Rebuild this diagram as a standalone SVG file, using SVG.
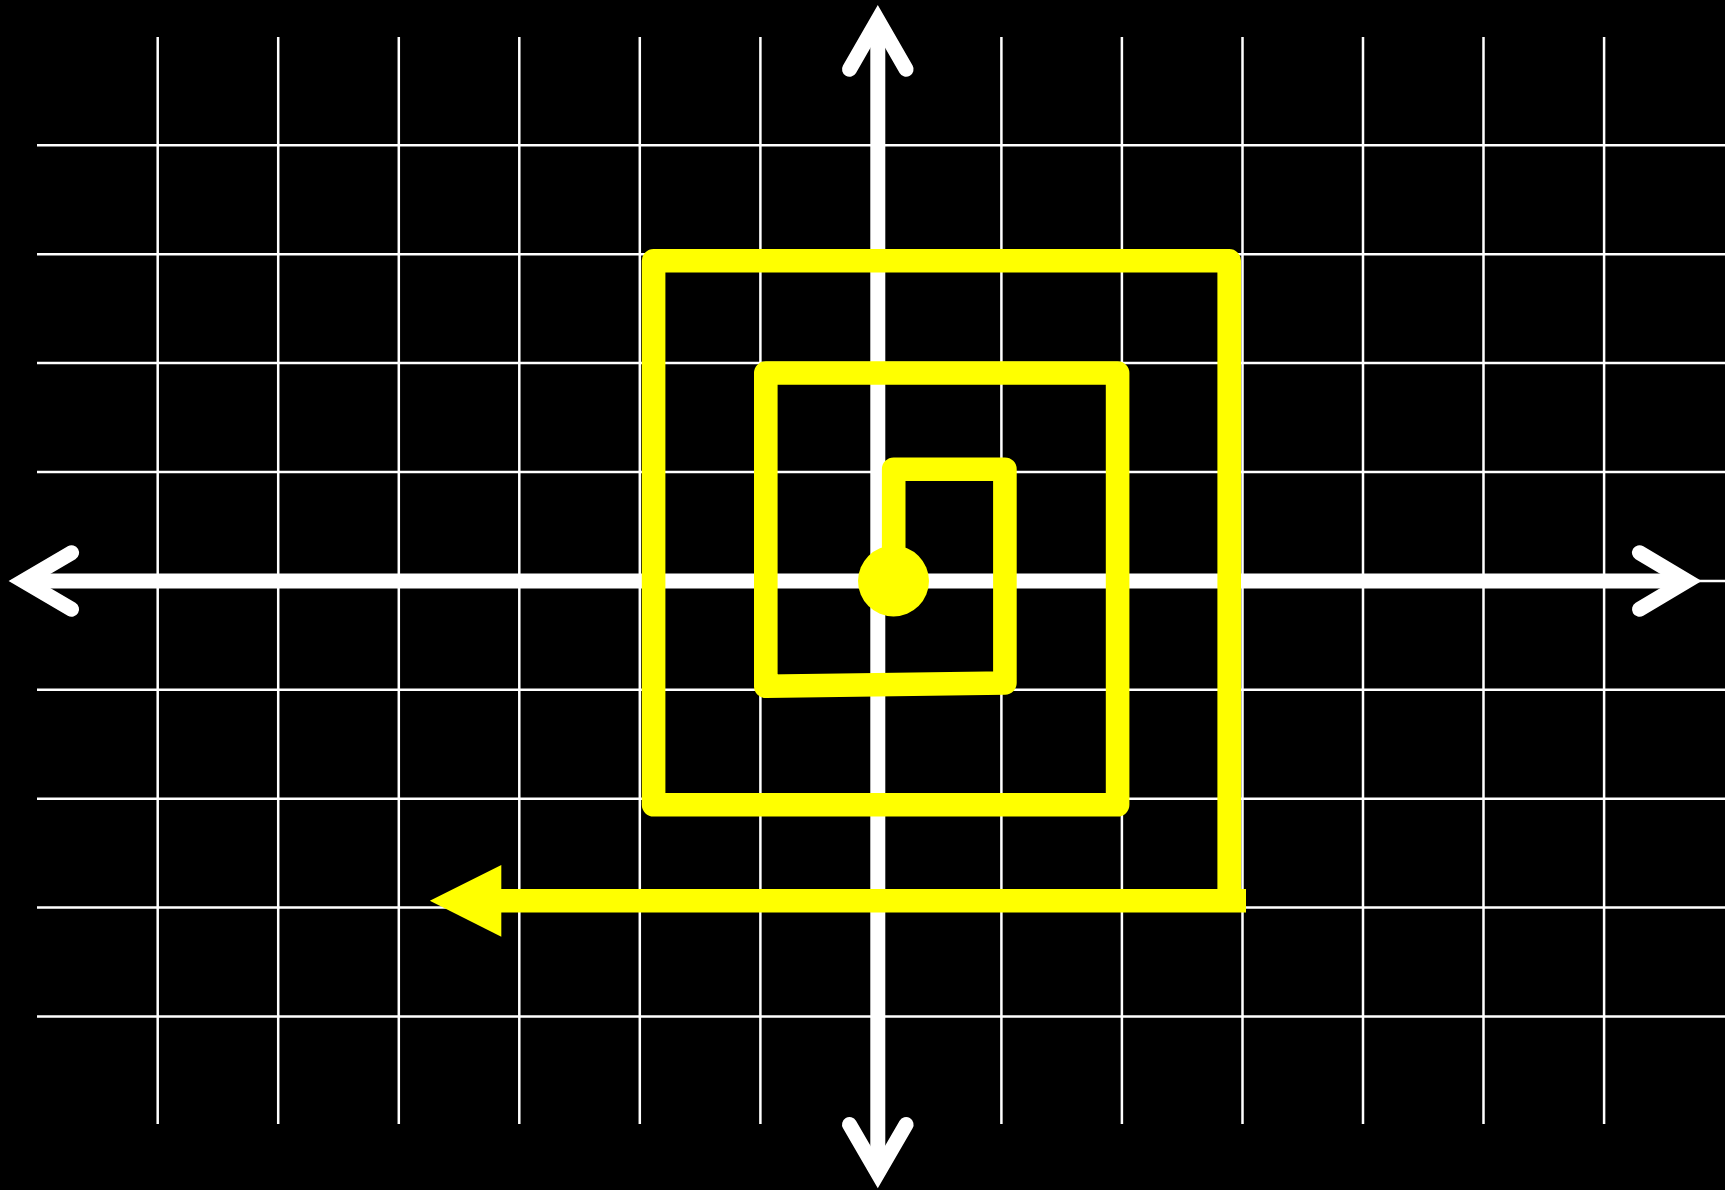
<svg xmlns="http://www.w3.org/2000/svg" width="1725" height="1190" viewBox="0 0 1725 1190">
  <style>
    .grid { stroke: #ffffff; stroke-width: 2.5; fill: none; }
    .axis { stroke: #ffffff; stroke-width: 15; fill: none; }
    .head { stroke: #ffffff; stroke-width: 15; fill: none; stroke-linecap: round; stroke-linejoin: miter; }
    .spiral { stroke: #ffff00; stroke-width: 23.6; fill: none; stroke-linejoin: round; stroke-linecap: butt; }
  </style>
  <rect x="0" y="0" width="1725" height="1190" fill="#000000"/>
  <g id="grid">
    <g id="grid-vertical">
      <line class="grid" x1="157.7" y1="37" x2="157.7" y2="1124"/>
      <line class="grid" x1="278.2" y1="37" x2="278.2" y2="1124"/>
      <line class="grid" x1="398.8" y1="37" x2="398.8" y2="1124"/>
      <line class="grid" x1="519.3" y1="37" x2="519.3" y2="1124"/>
      <line class="grid" x1="639.8" y1="37" x2="639.8" y2="1124"/>
      <line class="grid" x1="760.4" y1="37" x2="760.4" y2="1124"/>
      <line class="grid" x1="1001.4" y1="37" x2="1001.4" y2="1124"/>
      <line class="grid" x1="1121.9" y1="37" x2="1121.9" y2="1124"/>
      <line class="grid" x1="1242.5" y1="37" x2="1242.5" y2="1124"/>
      <line class="grid" x1="1363" y1="37" x2="1363" y2="1124"/>
      <line class="grid" x1="1483.5" y1="37" x2="1483.5" y2="1124"/>
      <line class="grid" x1="1604.1" y1="37" x2="1604.1" y2="1124"/>
    </g>
    <g id="grid-horizontal">
      <line class="grid" x1="37" y1="145.3" x2="1725" y2="145.3"/>
      <line class="grid" x1="37" y1="254.2" x2="1725" y2="254.2"/>
      <line class="grid" x1="37" y1="363.1" x2="1725" y2="363.1"/>
      <line class="grid" x1="37" y1="472" x2="1725" y2="472"/>
      <line class="grid" x1="37" y1="581" x2="1725" y2="581"/>
      <line class="grid" x1="37" y1="689.8" x2="1725" y2="689.8"/>
      <line class="grid" x1="37" y1="798.7" x2="1725" y2="798.7"/>
      <line class="grid" x1="37" y1="907.6" x2="1725" y2="907.6"/>
      <line class="grid" x1="37" y1="1016.5" x2="1725" y2="1016.5"/>
    </g>
  </g>
  <g id="x-axis">
    <line class="axis" x1="23.4" y1="581" x2="1687" y2="581"/>
    <polyline class="head" points="71.6,552.7 23.4,581 71.6,609.3"/>
    <polyline class="head" points="1639.5,552.7 1687,581 1639.5,609.3"/>
  </g>
  <g id="y-axis">
    <line class="axis" x1="877.8" y1="20" x2="877.8" y2="1173.3"/>
    <polyline class="head" points="849.5,69.3 877.8,20 906.1,69.3"/>
    <polyline class="head" points="849.5,1124.6 877.8,1173.3 906.1,1124.6"/>
  </g>
  <g id="connectors">
    <polyline id="spiral" class="spiral" points="893.7,581 893.7,469.2 1004.9,469.2 1004.9,683 765.8,686.3 765.8,373 1117.6,373 1117.6,804.8 653.6,804.8 653.6,260.8 1229.2,260.8 1229.2,900"/>
    <line class="spiral" x1="1246" y1="900.8" x2="500" y2="900.8"/>
    <polygon id="arrowhead" points="429.8,900.7 501.3,865 501.3,936.7" fill="#ffff00"/>
  </g>
  <g id="start-point">
    <circle cx="893.5" cy="581" r="35.5" fill="#ffff00"/>
  </g>
</svg>
